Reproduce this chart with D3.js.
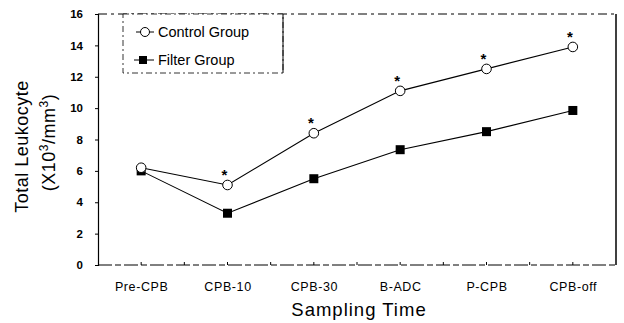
<!DOCTYPE html>
<html>
<head>
<meta charset="utf-8">
<script src="https://cdn.jsdelivr.net/npm/d3@7"></script>
<style>
  body { margin: 0; background: #fff; }
  text { font-family: Arial, "Liberation Sans", sans-serif; fill: #000; }
</style>
</head>
<body>
<div id="chart"></div>
<script>
const categories = ["Pre-CPB", "CPB-10", "CPB-30", "B-ADC", "P-CPB", "CPB-off"];
const controlValues = [6.2, 5.1, 8.4, 11.1, 12.5, 13.9];
const filterValues = [6.0, 3.3, 5.5, 7.35, 8.5, 9.85];
const significant = [false, true, true, true, true, true];
const yTicks = [0, 2, 4, 6, 8, 10, 12, 14, 16];

const width = 624, height = 323;
const plotLeft = 98, plotRight = 616, plotTop = 14, plotBottom = 265;

const svg = d3.select("#chart").append("svg")
  .attr("width", width)
  .attr("height", height);

const x = d3.scalePoint().domain(categories).range([plotLeft, plotRight]).padding(0.5);
const y = d3.scaleLinear().domain([0, 16]).range([plotBottom, plotTop]);

// frame: top dashed, right solid
svg.append("line")
  .attr("x1", plotLeft).attr("x2", plotRight).attr("y1", plotTop).attr("y2", plotTop)
  .attr("stroke", "#000").attr("stroke-width", 1)
  .attr("stroke-dasharray", "9,4,3,4");
svg.append("line")
  .attr("x1", plotRight).attr("x2", plotRight).attr("y1", plotTop).attr("y2", plotBottom)
  .attr("stroke", "#000").attr("stroke-width", 1.5);

// y axis
const yAxis = svg.append("g")
  .attr("transform", `translate(${plotLeft},0)`)
  .call(d3.axisLeft(y).tickValues(yTicks).tickSize(3).tickPadding(12).tickFormat(d3.format("d")));
yAxis.select(".domain").attr("stroke-width", 1.2);
yAxis.selectAll("text")
  .style("font-size", "11.5px").style("font-weight", "bold");

// x axis with small inner ticks at categories and midpoints
const step = x.step();
const xAxis = svg.append("g")
  .attr("transform", `translate(0,${plotBottom})`)
  .call(d3.axisBottom(x).tickSize(0).tickPadding(17));
xAxis.select(".domain").remove();
xAxis.selectAll("text")
  .style("font-size", "12.5px").style("letter-spacing", "0.6px");
svg.append("line")
  .attr("x1", plotLeft).attr("x2", plotRight).attr("y1", plotBottom).attr("y2", plotBottom)
  .attr("stroke", "#000").attr("stroke-width", 1)
  .attr("stroke-dasharray", "14,3,6,3");
const minor = [];
categories.forEach((c, i) => {
  minor.push(x(c));
  if (i < categories.length - 1) minor.push(x(c) + step / 2);
});
svg.selectAll(".xtick").data(minor).enter().append("line")
  .attr("x1", d => d).attr("x2", d => d)
  .attr("y1", plotBottom).attr("y2", plotBottom - 3)
  .attr("stroke", "#000");

// axis titles
svg.append("text")
  .attr("transform", `translate(28,${(plotTop + plotBottom) / 2 + 7}) rotate(-90)`)
  .attr("text-anchor", "middle")
  .style("font-size", "18px").style("letter-spacing", "0.5px")
  .text("Total Leukocyte");
const sub = svg.append("text")
  .attr("transform", `translate(55,${(plotTop + plotBottom) / 2 + 3}) rotate(-90)`)
  .attr("text-anchor", "middle")
  .style("font-size", "18px").style("letter-spacing", "0.5px");
sub.append("tspan").text("(X10");
sub.append("tspan").attr("dy", -7).style("font-size", "12px").text("3");
sub.append("tspan").attr("dy", 7).text("/mm");
sub.append("tspan").attr("dy", -7).style("font-size", "12px").text("3");
sub.append("tspan").attr("dy", 7).text(")");

svg.append("text")
  .attr("x", 359).attr("y", 316)
  .attr("text-anchor", "middle")
  .style("font-size", "18.5px").style("letter-spacing", "1px")
  .text("Sampling Time");

// lines
const line = d3.line().x((d, i) => x(categories[i])).y(d => y(d));
svg.append("path").datum(controlValues)
  .attr("fill", "none").attr("stroke", "#000").attr("stroke-width", 1.1).attr("d", line);
svg.append("path").datum(filterValues)
  .attr("fill", "none").attr("stroke", "#000").attr("stroke-width", 1.1).attr("d", line);

// markers
svg.selectAll(".fsq").data(filterValues).enter().append("rect")
  .attr("x", (d, i) => x(categories[i]) - 4.5)
  .attr("y", d => y(d) - 4.5)
  .attr("width", 9).attr("height", 9)
  .attr("fill", "#000");
svg.selectAll(".cc").data(controlValues).enter().append("circle")
  .attr("cx", (d, i) => x(categories[i]))
  .attr("cy", d => y(d))
  .attr("r", 4.8)
  .attr("fill", "#fff").attr("stroke", "#000").attr("stroke-width", 1);

// significance stars
const starData = categories
  .map((c, i) => ({ cat: c, value: controlValues[i], sig: significant[i] }))
  .filter(d => d.sig);
svg.selectAll(".star").data(starData).enter().append("text")
  .attr("x", d => x(d.cat) - 3)
  .attr("y", d => y(d.value) - 5)
  .attr("text-anchor", "middle")
  .style("font-size", "15px").style("font-weight", "bold")
  .text("*");

// legend
const lg = svg.append("g");
lg.append("rect")
  .attr("x", 123).attr("y", plotTop).attr("width", 160).attr("height", 59)
  .attr("fill", "#fff").attr("stroke", "#000").attr("stroke-width", 0.8)
  .attr("stroke-dasharray", "6,3,2,3");
lg.append("line").attr("x1", 283).attr("x2", 283).attr("y1", plotTop).attr("y2", 73)
  .attr("stroke", "#000").attr("stroke-width", 1);
lg.append("line").attr("x1", 136).attr("x2", 154).attr("y1", 32).attr("y2", 32)
  .attr("stroke", "#000");
lg.append("circle").attr("cx", 145).attr("cy", 32).attr("r", 4.5)
  .attr("fill", "#fff").attr("stroke", "#000");
lg.append("text").attr("x", 158).attr("y", 37)
  .style("font-size", "14.5px").text("Control Group");
lg.append("line").attr("x1", 134).attr("x2", 154).attr("y1", 60).attr("y2", 60)
  .attr("stroke", "#000");
lg.append("rect").attr("x", 139).attr("y", 56).attr("width", 8).attr("height", 8)
  .attr("fill", "#000");
lg.append("text").attr("x", 158).attr("y", 65)
  .style("font-size", "14.5px").text("Filter Group");
</script>
</body>
</html>
